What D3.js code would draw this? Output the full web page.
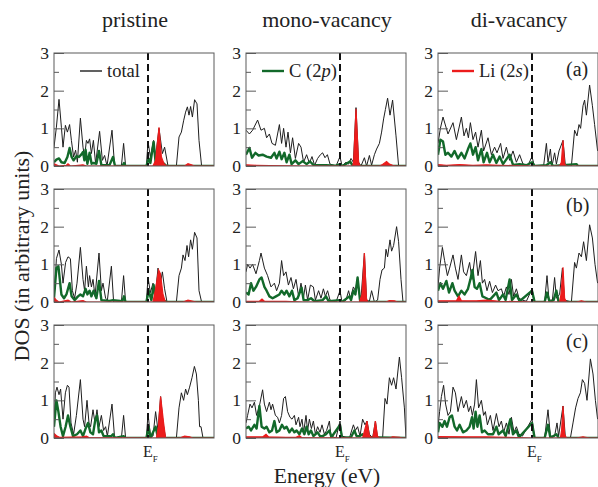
<!DOCTYPE html>
<html>
<head>
<meta charset="utf-8">
<script src="https://cdn.jsdelivr.net/npm/d3@7"></script>
<style>
  body { margin: 0; background: #fff; }
  svg { display: block; }
  text { font-family: "Liberation Serif", "Times New Roman", serif; fill: #222; }
</style>
</head>
<body>
<svg id="chart"></svg>
<script>
// Column titles, row tags and axis ticks
var columns = ["pristine", "mono-vacancy", "di-vacancy"];
var rowTags = ["(a)", "(b)", "(c)"];
var majorTicks = [0, 1, 2, 3];
var minorTicks = [0.5, 1.5, 2.5];
var energyDomain = [-4.7, 3.3];   // eV, E_F = 0
var fermi = 0;

// ---- row (a) ----  [energy, DOS]
var totA0 = [[-4.70,0.5],[-4.58,1.03],[-4.45,1.77],[-4.33,1.03],[-4.25,0.5],[-4.13,1.08],[-4.03,0.9],[-3.92,1.1],[-3.83,0.68],[-3.72,0.24],[-3.62,0.42],[-3.53,0.1],[-3.38,1.27],[-3.25,0.5],[-3.17,0.24],[-3.08,0.68],[-3.00,0.6],[-2.92,0.72],[-2.83,0.33],[-2.73,0.68],[-2.62,0.06],[-2.42,0.92],[-2.28,0.15],[-2.17,0.28],[-2.05,0],[-1.80,0.95],[-1.67,0],[-1.33,0],[-1.22,0.6],[-1.12,0],[-0.08,0],[0.00,0.65],[0.12,0.24],[0.28,0.68],[0.38,0.24],[0.55,1.0],[0.72,0.33],[0.83,0.5],[1.00,0],[1.42,0],[1.55,0.77],[1.67,0.9],[1.78,1.2],[1.88,1.43],[1.97,1.57],[2.05,1.35],[2.13,1.58],[2.22,1.3],[2.33,1.76],[2.45,1.65],[2.55,0.68],[2.68,0],[3.30,0]];
var cA0 = [[-4.70,0.1],[-4.58,0.17],[-4.45,0.2],[-4.33,0.1],[-4.17,0.08],[-4.03,0.24],[-3.92,0.48],[-3.82,0.24],[-3.72,0.15],[-3.58,0.26],[-3.45,0.24],[-3.33,0.31],[-3.25,0.37],[-3.18,0.15],[-3.12,0.43],[-3.03,0.06],[-2.92,0.35],[-2.82,0.06],[-2.72,0.08],[-2.58,0.06],[-2.45,0.4],[-2.33,0.02],[-1.92,0.03],[-1.75,0.24],[-1.65,0],[-1.28,0],[-1.20,0.08],[-1.12,0],[-0.08,0],[0.03,0.2],[0.12,0.08],[0.28,0.64],[0.38,0.1],[0.50,0.06],[0.75,0.08],[0.92,0],[3.30,0]];
var liA0 = [[-4.70,0.06],[-4.58,0.03],[-4.45,0],[-4.08,0.02],[-4.00,0.06],[-3.88,0],[-3.25,0.03],[-3.08,0],[0.25,0],[0.38,0.15],[0.55,1.03],[0.67,0.24],[0.80,0.06],[0.92,0],[1.83,0],[2.00,0.06],[2.17,0.03],[2.33,0],[3.30,0]];

var totA1 = [[-4.70,0.95],[-4.53,0.85],[-4.37,0.95],[-4.12,1.22],[-3.95,0.95],[-3.78,1.0],[-3.67,0.75],[-3.53,0.85],[-3.40,0.6],[-3.23,0.55],[-3.03,1.1],[-2.92,0.6],[-2.82,1.0],[-2.70,0.5],[-2.60,0.9],[-2.48,0.35],[-2.37,0.75],[-2.23,0.2],[-2.07,0.6],[-1.95,0.5],[-1.82,0.1],[-1.67,0.3],[-1.53,0.08],[-1.40,0.25],[-1.27,0.02],[-1.12,0.2],[-0.98,0.3],[-0.87,0.35],[-0.75,0.22],[-0.63,0.3],[-0.50,0.05],[-0.20,0],[0.00,0.25],[0.10,0],[0.30,0.1],[0.43,0.05],[0.55,0.2],[0.67,0.1],[0.80,1.55],[0.93,0.1],[1.05,0],[1.22,0.22],[1.33,0],[1.47,0.28],[1.58,0.02],[1.72,0.3],[1.83,0.45],[1.97,0.6],[2.08,0.9],[2.18,1.25],[2.27,1.5],[2.38,1.8],[2.50,1.35],[2.63,1.75],[2.80,0.8],[2.93,0],[3.30,0]];
var cA1 = [[-4.70,0.3],[-4.53,0.48],[-4.40,0.22],[-4.23,0.35],[-4.07,0.28],[-3.87,0.3],[-3.67,0.25],[-3.45,0.22],[-3.28,0.35],[-3.17,0.2],[-3.03,0.38],[-2.92,0.18],[-2.78,0.35],[-2.67,0.1],[-2.53,0.3],[-2.42,0.05],[-2.23,0.15],[-2.07,0.05],[-1.87,0.13],[-1.67,0.05],[-1.50,0.12],[-1.33,0.03],[-0.70,0.02],[-0.20,0.01],[0.00,0.05],[0.13,0],[0.50,0.12],[0.63,0.02],[0.80,0.03],[0.97,0],[3.30,0]];
var liA1 = [[-4.70,0.03],[-4.20,0.02],[-3.53,0.01],[-1.87,0],[0.63,0],[0.68,0.1],[0.80,1.52],[0.93,0.1],[1.00,0],[1.97,0],[2.13,0.04],[2.33,0.12],[2.47,0.05],[2.63,0.02],[2.80,0],[3.30,0]];

var totA2 = [[-4.70,0.6],[-4.58,1.0],[-4.45,1.3],[-4.20,0.85],[-3.95,1.15],[-3.78,0.7],[-3.53,1.3],[-3.40,0.8],[-3.28,1.0],[-3.18,0.75],[-3.08,1.15],[-2.95,0.7],[-2.82,0.9],[-2.70,0.5],[-2.53,0.95],[-2.42,0.4],[-2.20,0.75],[-2.03,0.3],[-1.87,0.5],[-1.75,0.35],[-1.57,0.6],[-1.45,0.2],[-1.28,0.5],[-1.12,0.15],[-0.95,0.4],[-0.78,0.1],[-0.62,0.3],[-0.45,0.05],[-0.20,0.02],[0.00,0.25],[0.12,0],[0.58,0],[0.72,0.6],[0.80,0.1],[0.92,0.45],[1.00,0],[1.13,0.35],[1.22,0.05],[1.35,0.4],[1.55,0.68],[1.67,0],[1.97,0],[2.13,0.95],[2.25,0.8],[2.35,1.1],[2.43,1.0],[2.55,1.6],[2.63,1.75],[2.72,1.35],[2.88,2.15],[3.02,1.6],[3.13,1.1],[3.28,0.4]];
var cA2 = [[-4.70,0.3],[-4.58,0.7],[-4.45,0.65],[-4.33,0.3],[-4.20,0.35],[-4.03,0.25],[-3.87,0.4],[-3.70,0.2],[-3.53,0.35],[-3.37,0.2],[-3.20,0.45],[-3.08,0.6],[-2.95,0.3],[-2.82,0.5],[-2.70,0.15],[-2.53,0.45],[-2.42,0.1],[-2.25,0.35],[-2.12,0.1],[-1.95,0.3],[-1.78,0.08],[-1.62,0.25],[-1.45,0.05],[-1.12,0.3],[-0.95,0.03],[-0.62,0.05],[-0.28,0.02],[0.00,0.1],[0.13,0],[0.72,0.02],[0.92,0.1],[1.05,0],[2.22,0.05],[2.30,0],[3.30,0]];
var liA2 = [[-4.70,0.04],[-4.28,0.02],[-3.62,0.04],[-2.95,0.02],[-2.28,0.03],[-1.62,0.02],[-0.78,0.01],[0.05,0],[1.38,0],[1.47,0.1],[1.55,0.68],[1.63,0.05],[1.72,0],[3.30,0]];

// ---- row (b) ----
var totB0 = [[-4.70,0.1],[-4.67,0.3],[-4.58,1.15],[-4.45,1.38],[-4.33,1.0],[-4.25,0.5],[-4.12,1.05],[-4.00,1.2],[-3.88,1.15],[-3.78,0.3],[-3.67,0.1],[-3.55,0.5],[-3.38,1.45],[-3.25,0.6],[-3.17,0.3],[-3.08,0.95],[-2.98,0.4],[-2.92,0.7],[-2.83,0.4],[-2.75,0.6],[-2.65,0.15],[-2.45,1.3],[-2.33,0.3],[-2.25,0.5],[-2.12,0.1],[-2.03,0.05],[-1.83,0.95],[-1.72,0],[-1.33,0],[-1.22,0.7],[-1.12,0],[-0.08,0],[0.00,0.65],[0.12,0.25],[0.25,0.5],[0.37,0.2],[0.50,0.9],[0.62,0.5],[0.72,0.8],[0.83,0.35],[0.95,0],[1.42,0],[1.55,0.7],[1.67,0.9],[1.75,1.25],[1.85,1.1],[1.95,1.5],[2.03,1.2],[2.13,1.65],[2.22,1.4],[2.33,1.85],[2.45,1.7],[2.55,0.3],[2.68,0],[3.30,0]];
var cB0 = [[-4.70,0.1],[-4.58,0.9],[-4.48,0.95],[-4.33,0.2],[-4.20,0.1],[-4.08,0.2],[-3.92,0.5],[-3.82,0.15],[-3.67,0.05],[-3.50,0.15],[-3.38,0.2],[-3.25,0.15],[-3.12,0.35],[-3.03,0.2],[-2.92,0.3],[-2.83,0.15],[-2.72,0.3],[-2.58,0.1],[-2.45,0.56],[-2.33,0.05],[-1.92,0.03],[-1.75,0.05],[-1.28,0.02],[-1.20,0.15],[-1.12,0],[-0.08,0],[0.03,0.3],[0.17,0.05],[0.28,0.45],[0.38,0.1],[0.58,0.1],[0.75,0.05],[0.92,0],[3.30,0]];
var liB0 = [[-4.70,0.12],[-4.58,0.05],[-4.45,0],[-4.00,0.05],[-3.83,0],[-3.25,0.04],[-3.08,0],[0.25,0],[0.38,0.35],[0.53,0.85],[0.62,0.75],[0.75,0.2],[0.87,0],[1.75,0],[2.00,0.05],[2.25,0.02],[2.42,0],[3.30,0]];

var totB1 = [[-4.70,0.8],[-4.62,1.0],[-4.50,0.9],[-4.37,1.0],[-4.20,0.75],[-4.03,1.1],[-3.95,1.3],[-3.78,0.9],[-3.62,0.7],[-3.45,0.4],[-3.28,0.5],[-3.17,0.3],[-3.03,0.5],[-2.92,1.1],[-2.82,0.7],[-2.70,0.8],[-2.58,0.45],[-2.45,0.65],[-2.33,0.35],[-2.20,0.6],[-2.07,0.15],[-1.95,0.5],[-1.83,0.1],[-1.73,0.45],[-1.62,0.05],[-1.48,0.45],[-1.33,0.4],[-1.23,0.05],[-1.07,0.3],[-0.95,0.1],[-0.83,0.35],[-0.73,0.15],[-0.62,0.3],[-0.50,0.05],[-0.20,0],[0.00,0.3],[0.10,0],[0.30,0.05],[0.43,0.3],[0.52,0.1],[0.67,0.4],[0.77,0.3],[0.88,0.65],[0.97,0.2],[1.05,0.1],[1.22,1.3],[1.33,0.05],[1.47,0.02],[1.58,0.3],[1.72,0],[1.88,0.05],[2.00,0.6],[2.10,0.85],[2.22,0.9],[2.30,1.4],[2.38,1.2],[2.50,1.65],[2.58,1.35],[2.68,1.5],[2.83,2.0],[2.93,1.6],[3.05,0.6],[3.15,0],[3.30,0]];
var cB1 = [[-4.70,0.25],[-4.57,0.2],[-4.45,0.5],[-4.33,0.3],[-4.20,0.4],[-4.03,0.6],[-3.92,0.65],[-3.78,0.4],[-3.67,0.3],[-3.53,0.15],[-3.37,0.1],[-3.20,0.15],[-3.03,0.2],[-2.92,0.3],[-2.78,0.2],[-2.67,0.3],[-2.53,0.15],[-2.40,0.3],[-2.28,0.05],[-2.12,0.1],[-1.92,0.38],[-1.82,0.05],[-1.62,0.05],[-1.45,0.1],[-1.28,0.02],[-0.87,0.05],[-0.70,0.15],[-0.57,0.02],[0.00,0.05],[0.10,0],[0.47,0.15],[0.55,0.05],[0.67,0.3],[0.77,0.2],[0.88,0.65],[1.00,0.05],[1.13,0],[3.30,0]];
var liB1 = [[-4.70,0.02],[-4.03,0.02],[-3.90,0.08],[-3.78,0.02],[-2.70,0.02],[-1.87,0],[0.97,0],[1.10,0.2],[1.22,1.3],[1.32,0.1],[1.38,0],[2.30,0],[2.47,0.04],[2.72,0.03],[2.88,0],[3.30,0]];

var totB2 = [[-4.70,0.4],[-4.62,0.9],[-4.48,1.45],[-4.37,1.1],[-4.23,0.7],[-4.12,0.9],[-3.95,1.25],[-3.83,0.9],[-3.70,0.6],[-3.53,1.25],[-3.42,0.8],[-3.28,0.7],[-3.12,1.05],[-3.00,0.6],[-2.82,1.34],[-2.70,0.7],[-2.58,1.1],[-2.48,0.5],[-2.37,0.6],[-2.25,0.3],[-2.12,0.55],[-1.98,0.25],[-1.82,0.45],[-1.70,0.3],[-1.53,0.35],[-1.42,0.15],[-1.28,0.4],[-1.15,0.2],[-1.03,0.6],[-0.92,0.15],[-0.78,0.35],[-0.65,0.1],[-0.48,0.05],[-0.28,0.02],[0.00,0.35],[0.13,0],[0.63,0],[0.75,0.7],[0.85,0.05],[1.02,0.05],[1.13,0.65],[1.22,0.1],[1.38,0.2],[1.52,0.9],[1.63,0.05],[1.97,0],[2.13,1.05],[2.22,0.9],[2.35,1.3],[2.47,1.2],[2.58,1.6],[2.72,1.1],[2.88,2.05],[3.02,1.7],[3.15,1.0],[3.28,0.5]];
var cB2 = [[-4.70,0.3],[-4.58,0.5],[-4.45,0.35],[-4.28,0.56],[-4.15,0.25],[-3.98,0.5],[-3.87,0.3],[-3.70,0.15],[-3.53,0.3],[-3.37,0.2],[-3.20,0.35],[-3.08,0.6],[-2.98,0.85],[-2.87,0.4],[-2.75,0.35],[-2.62,0.5],[-2.48,0.15],[-2.28,0.1],[-2.12,0.05],[-1.78,0.25],[-1.65,0.05],[-1.45,0.2],[-1.32,0.05],[-1.12,0.6],[-1.00,0.05],[-0.78,0.2],[-0.62,0.02],[0.00,0.3],[0.13,0],[0.63,0],[0.75,0.25],[0.88,0],[1.08,0.05],[1.22,0.3],[1.33,0],[3.30,0]];
var liB2 = [[-4.70,0.03],[-3.78,0.03],[-3.65,0.15],[-3.53,0.03],[-2.78,0.03],[-2.28,0.05],[-1.62,0.02],[-0.78,0.01],[0.05,0],[1.38,0],[1.45,0.2],[1.55,0.92],[1.63,0.1],[1.72,0],[2.22,0],[2.47,0.03],[2.72,0],[3.30,0]];

// ---- row (c) ----
var totC0 = [[-4.70,0.3],[-4.63,1.2],[-4.55,1.35],[-4.45,1.15],[-4.37,1.3],[-4.25,0.5],[-4.13,1.2],[-4.03,1.4],[-3.95,1.35],[-3.85,0.4],[-3.72,0.1],[-3.58,0.6],[-3.38,1.55],[-3.25,0.5],[-3.17,0.3],[-3.05,1.0],[-2.95,0.4],[-2.87,0.3],[-2.75,0.75],[-2.65,0.4],[-2.55,0.75],[-2.45,0.3],[-2.33,0.6],[-2.22,0.2],[-2.12,0.3],[-2.03,0.05],[-1.80,0.9],[-1.67,0],[-1.33,0],[-1.22,0.6],[-1.12,0],[-0.08,0],[0.00,0.65],[0.12,0.05],[0.25,0.05],[0.38,0.7],[0.50,0.2],[0.63,1.1],[0.75,0.4],[0.88,0],[1.42,0],[1.55,0.8],[1.67,1.2],[1.78,1.0],[1.88,1.3],[1.97,1.15],[2.08,1.35],[2.20,1.6],[2.32,1.9],[2.42,1.7],[2.52,1.0],[2.58,0.3],[2.65,0.3],[2.75,0],[3.30,0]];
var cC0 = [[-4.70,0.3],[-4.58,1.0],[-4.48,0.7],[-4.37,0.3],[-4.25,0.05],[-4.12,0.3],[-4.00,0.6],[-3.88,0.3],[-3.75,0.05],[-3.55,0.1],[-3.38,0.2],[-3.25,0.05],[-3.12,0.25],[-3.00,0.4],[-2.88,0.15],[-2.75,0.1],[-2.63,0.5],[-2.55,0.6],[-2.45,0.15],[-2.33,0.2],[-2.22,0.05],[-1.83,0.05],[-1.75,0.1],[-1.65,0],[-1.22,0.05],[-1.12,0],[-0.08,0],[0.03,0.3],[0.12,0],[0.38,0.3],[0.50,0],[3.30,0]];
var liC0 = [[-4.70,0.12],[-4.55,0.05],[-4.42,0.02],[-3.25,0.03],[-3.08,0.05],[-2.95,0.01],[0.42,0],[0.52,0.3],[0.63,1.1],[0.78,0.4],[0.88,0],[1.58,0],[1.83,0.05],[2.08,0.03],[2.25,0],[3.30,0]];

var totC1 = [[-4.70,0.4],[-4.62,0.6],[-4.50,0.9],[-4.40,0.8],[-4.28,0.95],[-4.17,0.6],[-4.03,0.85],[-3.87,1.28],[-3.78,0.9],[-3.67,0.7],[-3.53,0.95],[-3.45,0.75],[-3.37,0.9],[-3.23,0.6],[-3.12,0.55],[-3.03,0.4],[-2.92,0.6],[-2.82,1.05],[-2.73,1.1],[-2.62,0.7],[-2.50,0.55],[-2.40,0.5],[-2.28,0.6],[-2.20,0.35],[-2.07,0.55],[-2.00,0.3],[-1.90,0.5],[-1.82,0.15],[-1.70,0.6],[-1.62,0.2],[-1.53,0.5],[-1.43,0.25],[-1.33,0.45],[-1.23,0.1],[-1.12,0.3],[-1.00,0.15],[-0.90,0.35],[-0.78,0.1],[-0.67,0.2],[-0.53,0.45],[-0.45,0.05],[-0.20,0],[0.00,0.45],[0.10,0.05],[0.47,0],[0.67,0.35],[0.77,0.2],[0.88,0.3],[1.00,0.05],[1.13,0.5],[1.25,0.35],[1.35,0.45],[1.47,0.1],[1.63,0],[1.77,0.45],[1.88,0],[2.13,0],[2.25,1.05],[2.35,0.9],[2.47,1.6],[2.58,1.4],[2.68,1.6],[2.80,1.3],[2.97,2.15],[3.08,1.6],[3.22,0.8],[3.30,0]];
var cC1 = [[-4.70,0.25],[-4.57,0.3],[-4.45,0.2],[-4.28,0.35],[-4.17,0.25],[-4.03,0.85],[-3.92,0.3],[-3.78,0.25],[-3.67,0.3],[-3.53,0.15],[-3.40,0.2],[-3.28,0.45],[-3.17,0.15],[-3.03,0.2],[-2.90,0.35],[-2.78,0.25],[-2.67,0.3],[-2.53,0.15],[-2.40,0.25],[-2.28,0.15],[-2.17,0.2],[-2.03,0.1],[-1.90,0.25],[-1.78,0.1],[-1.67,0.3],[-1.57,0.1],[-1.45,0.2],[-1.33,0.05],[-1.12,0.15],[-1.00,0.05],[-0.87,0.05],[-0.70,0.1],[-0.53,0.2],[-0.43,0.02],[0.00,0.35],[0.10,0],[0.55,0.02],[0.72,0.2],[0.83,0.05],[0.97,0.05],[1.13,0.1],[1.27,0.02],[3.30,0]];
var liC1 = [[-4.70,0.03],[-3.87,0.03],[-3.70,0.1],[-3.57,0.03],[-2.70,0.02],[-2.20,0.02],[-2.03,0.06],[-1.90,0.01],[1.13,0],[1.23,0.2],[1.35,0.45],[1.47,0.05],[1.63,0],[1.68,0.1],[1.77,0.45],[1.87,0.05],[1.97,0],[2.47,0],[2.63,0.03],[2.97,0.02],[3.13,0],[3.30,0]];

var totC2 = [[-4.70,0.3],[-4.62,0.7],[-4.53,1.1],[-4.42,1.4],[-4.32,0.9],[-4.20,0.6],[-4.08,0.7],[-3.95,1.35],[-3.83,1.2],[-3.70,0.7],[-3.53,1.1],[-3.42,0.8],[-3.28,1.0],[-3.17,0.7],[-3.07,0.85],[-2.98,0.6],[-2.87,0.9],[-2.78,1.55],[-2.67,0.8],[-2.53,1.0],[-2.42,0.6],[-2.33,0.7],[-2.23,0.35],[-2.08,0.6],[-1.95,0.2],[-1.78,0.65],[-1.65,0.3],[-1.53,0.45],[-1.42,0.15],[-1.28,0.4],[-1.15,0.1],[-1.03,0.55],[-0.90,0.15],[-0.78,0.3],[-0.65,0.1],[-0.48,0.05],[0.00,0.5],[0.13,0],[0.63,0],[0.80,0.75],[0.92,0.05],[1.13,0.05],[1.25,0.4],[1.33,0.05],[1.55,0.85],[1.67,0],[1.92,0],[2.05,0.4],[2.18,0.8],[2.30,1.05],[2.42,1.2],[2.52,1.55],[2.63,1.45],[2.75,1.0],[2.92,2.1],[3.05,1.7],[3.17,1.0],[3.28,0.5]];
var cC2 = [[-4.70,0.15],[-4.62,0.4],[-4.48,0.3],[-4.37,0.45],[-4.25,0.3],[-4.12,0.55],[-4.00,0.6],[-3.87,0.3],[-3.75,0.2],[-3.62,0.35],[-3.45,0.15],[-3.28,0.2],[-3.12,0.3],[-3.00,0.55],[-2.92,0.25],[-2.82,0.7],[-2.73,0.3],[-2.62,0.6],[-2.50,0.15],[-2.37,0.2],[-2.20,0.1],[-1.95,0.1],[-1.78,0.3],[-1.67,0.1],[-1.45,0.2],[-1.32,0.05],[-1.08,0.5],[-0.95,0.1],[-0.78,0.2],[-0.65,0.02],[0.00,0.4],[0.13,0],[0.63,0],[0.80,0.35],[0.92,0],[1.22,0.1],[1.33,0],[3.30,0]];
var liC2 = [[-4.70,0.04],[-3.28,0.03],[-2.28,0.03],[-1.28,0.02],[0.05,0],[1.42,0],[1.48,0.2],[1.55,0.85],[1.63,0.1],[1.72,0],[2.22,0],[2.55,0.03],[2.88,0],[3.30,0]];

var panels = [
  {row: 0, col: 0, total: totA0, carbon: cA0, li: liA0},
  {row: 0, col: 1, total: totA1, carbon: cA1, li: liA1},
  {row: 0, col: 2, total: totA2, carbon: cA2, li: liA2},
  {row: 1, col: 0, total: totB0, carbon: cB0, li: liB0},
  {row: 1, col: 1, total: totB1, carbon: cB1, li: liB1},
  {row: 1, col: 2, total: totB2, carbon: cB2, li: liB2},
  {row: 2, col: 0, total: totC0, carbon: cC0, li: liC0},
  {row: 2, col: 1, total: totC1, carbon: cC1, li: liC1},
  {row: 2, col: 2, total: totC2, carbon: cC2, li: liC2}
];

var width = 598, height = 487;
var panelW = 160, panelH = 113;
var left0 = 54, top0 = 53, colStep = 192, rowStep = 136;

var svg = d3.select("#chart")
    .attr("width", width)
    .attr("height", height);

svg.append("rect").attr("width", width).attr("height", height).attr("fill", "#fff");

var x = d3.scaleLinear().domain(energyDomain).range([0, panelW]);
var y = d3.scaleLinear().domain([0, 3]).range([panelH, 0]);

var line = d3.line()
    .x(function(d) { return x(d[0]); })
    .y(function(d) { return y(d[1]); });

var area = d3.area()
    .x(function(d) { return x(d[0]); })
    .y0(y(0))
    .y1(function(d) { return y(d[1]); });

var colors = {total: "#1e1e1e", carbon: "#12692a", li: "#ec1c1c", frame: "#5a5a5a"};

panels.forEach(function(p, i) {
    var g = svg.append("g")
        .attr("transform", "translate(" + (left0 + p.col * colStep) + "," + (top0 + p.row * rowStep) + ")");

    g.append("clipPath").attr("id", "clip" + i)
        .append("rect").attr("width", panelW).attr("height", panelH);

    var plot = g.append("g").attr("clip-path", "url(#clip" + i + ")");

    plot.append("path")
        .datum(p.total)
        .attr("d", line)
        .attr("fill", "none")
        .attr("stroke", colors.total)
        .attr("stroke-width", 1)
        .attr("stroke-linejoin", "round");

    plot.append("path")
        .datum(p.carbon)
        .attr("d", line)
        .attr("fill", "none")
        .attr("stroke", colors.carbon)
        .attr("stroke-width", 2.4)
        .attr("stroke-linejoin", "round");

    plot.append("path")
        .datum(p.li)
        .attr("d", area)
        .attr("fill", colors.li)
        .attr("stroke", colors.li)
        .attr("stroke-width", 1.2);

    // Fermi level
    g.append("line")
        .attr("x1", x(fermi)).attr("x2", x(fermi))
        .attr("y1", 0).attr("y2", panelH)
        .attr("stroke", "#111")
        .attr("stroke-width", 2)
        .attr("stroke-dasharray", "7,4");

    // frame
    g.append("rect")
        .attr("width", panelW).attr("height", panelH)
        .attr("fill", "none")
        .attr("stroke", colors.frame)
        .attr("stroke-width", 1);

    // inward ticks on the left
    var major = g.append("g")
        .call(d3.axisLeft(y).tickValues(majorTicks).tickSize(-10).tickPadding(5).tickFormat(d3.format("d")));
    var minor = g.append("g")
        .call(d3.axisLeft(y).tickValues(minorTicks).tickSize(-5).tickFormat(""));
    [major, minor].forEach(function(a) {
        a.select(".domain").remove();
        a.selectAll("line").attr("stroke", colors.frame);
    });
    major.selectAll("text")
        .attr("font-family", "Liberation Serif, serif")
        .attr("font-size", 17.5)
        .attr("fill", "#222");

    // bottom row: E_F
    if (p.row === 2) {
        var ef = g.append("text")
            .attr("x", x(fermi) - 5)
            .attr("y", panelH + 19)
            .attr("font-size", 16)
            .text("E");
        ef.append("tspan").attr("dy", 4.5).attr("font-size", 9).text("F");
    }
    // tag on the right column
    if (p.col === 2) {
        g.append("text")
            .attr("x", 128).attr("y", 23)
            .attr("font-size", 20)
            .text(rowTags[p.row]);
    }
});

// column titles
columns.forEach(function(c, i) {
    svg.append("text")
        .attr("x", left0 + i * colStep + panelW / 2 + 1)
        .attr("y", 27)
        .attr("text-anchor", "middle")
        .attr("font-size", 22)
        .text(c);
});

// legend, one entry per top panel
var legend = [
    {col: 0, color: colors.total, w: 1.4, x0: 26, label: ["total"]},
    {col: 1, color: colors.carbon, w: 2.4, x0: 16, label: ["C (2", "p", ")"]},
    {col: 2, color: colors.li, w: 2.4, x0: 14, label: ["Li (2", "s", ")"]}
];
legend.forEach(function(l) {
    var lx = left0 + l.col * colStep + l.x0;
    svg.append("line")
        .attr("x1", lx).attr("x2", lx + 22)
        .attr("y1", 71).attr("y2", 71)
        .attr("stroke", l.color).attr("stroke-width", l.w);
    var t = svg.append("text")
        .attr("x", lx + 27).attr("y", 76.5)
        .attr("font-size", 18.5);
    l.label.forEach(function(s, k) {
        t.append("tspan").attr("font-style", k === 1 ? "italic" : "normal").text(s);
    });
});

// axis titles
svg.append("text")
    .attr("transform", "translate(29,256) rotate(-90)")
    .attr("text-anchor", "middle")
    .attr("font-size", 22)
    .text("DOS (in arbitrary units)");

svg.append("text")
    .attr("x", 327).attr("y", 483)
    .attr("text-anchor", "middle")
    .attr("font-size", 21.5)
    .text("Energy (eV)");
</script>
</body>
</html>
